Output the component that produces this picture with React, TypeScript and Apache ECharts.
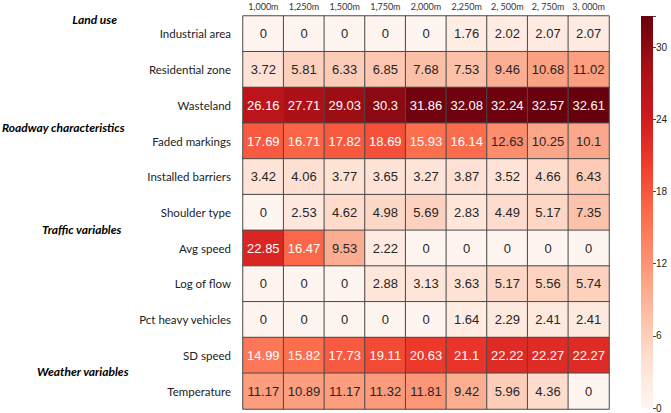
import React, { useEffect, useRef } from "react";
import * as echarts from "echarts";

const distances = ["1,000m", "1,250m", "1,500m", "1,750m", "2,000m", "2,250m", "2, 500m", "2, 750m", "3, 000m"];
const variables = [
  "Industrial area",
  "Residential zone",
  "Wasteland",
  "Faded markings",
  "Installed barriers",
  "Shoulder type",
  "Avg speed",
  "Log of flow",
  "Pct heavy vehicles",
  "SD speed",
  "Temperature",
];
const industrialArea = [0, 0, 0, 0, 0, 1.76, 2.02, 2.07, 2.07];
const residentialZone = [3.72, 5.81, 6.33, 6.85, 7.68, 7.53, 9.46, 10.68, 11.02];
const wasteland = [26.16, 27.71, 29.03, 30.3, 31.86, 32.08, 32.24, 32.57, 32.61];
const fadedMarkings = [17.69, 16.71, 17.82, 18.69, 15.93, 16.14, 12.63, 10.25, 10.1];
const installedBarriers = [3.42, 4.06, 3.77, 3.65, 3.27, 3.87, 3.52, 4.66, 6.43];
const shoulderType = [0, 2.53, 4.62, 4.98, 5.69, 2.83, 4.49, 5.17, 7.35];
const avgSpeed = [22.85, 16.47, 9.53, 2.22, 0, 0, 0, 0, 0];
const logOfFlow = [0, 0, 0, 2.88, 3.13, 3.63, 5.17, 5.56, 5.74];
const pctHeavyVehicles = [0, 0, 0, 0, 0, 1.64, 2.29, 2.41, 2.41];
const sdSpeed = [14.99, 15.82, 17.73, 19.11, 20.63, 21.1, 22.22, 22.27, 22.27];
const temperature = [11.17, 10.89, 11.17, 11.32, 11.81, 9.42, 5.96, 4.36, 0];
const rows = [
  industrialArea,
  residentialZone,
  wasteland,
  fadedMarkings,
  installedBarriers,
  shoulderType,
  avgSpeed,
  logOfFlow,
  pctHeavyVehicles,
  sdSpeed,
  temperature,
];
const groupLabels = ["Land use", "Roadway characteristics", "Traffic variables", "Weather variables"];
const colorbarTicks = [0, 6, 12, 18, 24, 30];

const VMAX = 32.61;
const reds = ["#fff5f0", "#fee0d2", "#fcbba1", "#fc9272", "#fb6a4a", "#ef3b2c", "#cb181d", "#a50f15", "#67000d"];

export default function App() {
  const ref = useRef<HTMLDivElement>(null);
  useEffect(() => {
    if (!ref.current) return;
    const chart = echarts.init(ref.current, null, { renderer: "svg" });
    const data: any[] = [];
    rows.forEach((row, yi) => {
      row.forEach((v, xi) => {
        data.push({
          value: [xi, yi, v],
          label: { color: v > 13.5 ? "#ffffff" : "#262626" },
        });
      });
    });
    const gradStops = reds
      .slice()
      .reverse()
      .map((c, i) => ({ offset: i / (reds.length - 1), color: c }));
    const groupStyle = {
      fontFamily: "Lato",
      fontWeight: "bold",
      fontStyle: "italic",
      fontSize: 12,
      fill: "#000",
    };
    chart.setOption({
      animation: false,
      backgroundColor: "#ffffff",
      grid: [
        { left: 243, right: 62, top: 16, bottom: 4 },
        { left: 641, width: 12, top: 16, bottom: 4 },
      ],
      xAxis: [
        {
          type: "category",
          data: distances,
          position: "top",
          gridIndex: 0,
          axisLine: { show: false },
          axisTick: { show: false },
          axisLabel: { fontFamily: "Lato", fontSize: 9, color: "#333", margin: 5, interval: 0 },
          splitLine: { show: false },
        },
        {
          type: "category",
          data: ["c"],
          gridIndex: 1,
          show: false,
        },
      ],
      yAxis: [
        {
          type: "category",
          data: variables,
          inverse: true,
          gridIndex: 0,
          axisLine: { show: false },
          axisTick: { show: false },
          axisLabel: { fontFamily: "Lato", fontSize: 11.5, color: "#222", margin: 12, interval: 0 },
        },
        {
          type: "value",
          gridIndex: 1,
          min: 0,
          max: VMAX,
          interval: 6,
          position: "right",
          axisLine: { show: false },
          axisTick: { show: true, length: 3, lineStyle: { color: "#444" } },
          axisLabel: {
            fontFamily: "Liberation Sans",
            fontSize: 10,
            color: "#222",
            margin: 3,
            customValues: colorbarTicks,
          },
          splitLine: { show: false },
        },
      ],
      visualMap: {
        show: false,
        type: "continuous",
        min: 0,
        max: VMAX,
        seriesIndex: 0,
        inRange: { color: reds },
      },
      series: [
        {
          type: "heatmap",
          xAxisIndex: 0,
          yAxisIndex: 0,
          data,
          label: {
            show: true,
            fontFamily: "Liberation Sans",
            fontSize: 13,
            formatter: (p: any) => String(p.value[2]),
          },
          itemStyle: { borderColor: "#4a4a4a", borderWidth: 1 },
          emphasis: { disabled: true },
        },
        {
          type: "bar",
          xAxisIndex: 1,
          yAxisIndex: 1,
          data: [VMAX],
          barWidth: "100%",
          itemStyle: {
            color: new echarts.graphic.LinearGradient(0, 0, 0, 1, gradStops),
          },
          silent: true,
        },
      ],
      graphic: [
        { type: "text", right: 554, top: 13, style: { ...groupStyle, text: groupLabels[0] } },
        { type: "text", left: 2, top: 121, style: { ...groupStyle, text: groupLabels[1] } },
        { type: "text", left: 42, top: 223, style: { ...groupStyle, text: groupLabels[2] } },
        { type: "text", left: 37, top: 365, style: { ...groupStyle, text: groupLabels[3] } },
      ],
    });
    return () => chart.dispose();
  }, []);
  return <div ref={ref} style={{ width: 671, height: 413, position: "absolute", left: 0, top: 0 }} />;
}
